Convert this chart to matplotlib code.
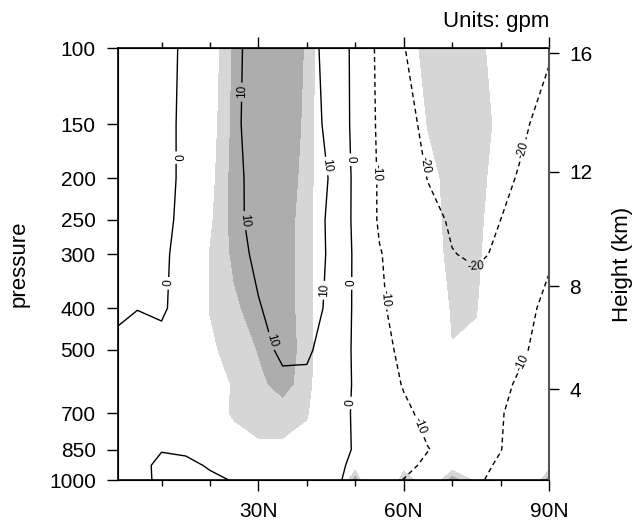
import numpy as np
import matplotlib
matplotlib.use("Agg")
import matplotlib.pyplot as plt
from matplotlib.ticker import NullLocator

plt.rcParams['font.family'] = ['Liberation Sans', 'DejaVu Sans']

# grid of the cross section
lats = [1, 5, 10, 15, 20, 25, 30, 35, 40, 45, 50, 55, 60, 65, 70, 75, 80, 85, 90]
plev = [1000, 925, 850, 700, 600, 500, 400, 300, 250, 200, 150, 100]

# geopotential height anomaly (gpm), rows follow plev, columns follow lats
hgt_anom = [
    [1.5, 1.5, -1, -2, -1, 0.3, 1, 1.5, 1.5, 0.8, -1, -5, -10.2, -12, -12.5, -11, -8, -6, -7],
    [1.5, 2, -1.5, -1.2, 0.5, 0.8, 2, 2.5, 2.5, 1.5, -1, -4, -8, -11.5, -12, -12, -9, -5, -3],
    [2, 2, 0.3, 0.8, 2, 3, 4, 4.5, 4, 2.5, -0.5, -4, -7, -9.8, -12, -12.5, -10.2, -6, -3],
    [2, 2.5, 3, 3.5, 4.5, 5.5, 6.5, 7, 6.5, 4, -1, -5, -8.5, -12, -13, -13, -10.5, -7, -4],
    [2, 2.5, 2.5, 3.5, 5, 6.5, 8, 9, 8.5, 5.5, -1, -6, -10.5, -13, -14, -14, -12, -8, -5],
    [1.5, 2, 2, 3, 5, 7, 8.5, 10.8, 11, 7, -1.5, -7, -12, -14.5, -15.5, -15.5, -14, -10.5, -7],
    [-1, -0.1, -0.8, 2.5, 5, 7, 9.5, 13, 13, 8.5, -1.5, -8.8, -13, -15.5, -17, -17, -15, -12, -8],
    [-2, -1.8, -1, 2, 5, 7.5, 11.5, 14, 13.5, 9, -1.5, -9.5, -14, -17, -19.8, -20.8, -19.2, -15, -11],
    [-2.5, -2, -1.5, 1.5, 5, 8.2, 12.5, 14.5, 13, 9, -2, -11, -15, -18, -20.8, -21.5, -20, -17, -14],
    [-3, -2.5, -1.8, 1.2, 4.5, 8.3, 12.5, 14.5, 13.5, 9.5, -2, -11, -16, -20.2, -22.5, -23, -21.5, -19, -16],
    [-3.5, -2.5, -1.8, 1.2, 5, 8.8, 13, 14.5, 13, 8.2, -2.5, -11.5, -18, -21.5, -24, -24.5, -23, -20.5, -18],
    [-4, -3, -2, 1, 5, 8.7, 12.5, 14, 12.5, 7.5, -2.5, -12, -19.8, -23, -25, -25, -24, -22, -20.5],
]

# confidence level (%) used for the gray shading
prob = [
    [50, 55, 60, 60, 60, 60, 65, 65, 70, 70, 98, 60, 97, 80, 98, 88, 60, 75, 98],
    [50, 55, 60, 60, 65, 70, 75, 75, 70, 65, 86, 60, 86, 70, 86, 70, 60, 70, 86],
    [50, 55, 60, 65, 75, 84, 88.5, 88.5, 85, 70, 60, 55, 60, 65, 65, 60, 55, 55, 60],
    [50, 50, 55, 70, 84, 91.5, 93, 93, 91, 75, 55, 50, 55, 60, 65, 65, 60, 55, 50],
    [50, 50, 55, 70, 82, 91.5, 94, 96.5, 93, 78, 55, 50, 55, 65, 75, 72, 65, 55, 50],
    [50, 50, 55, 75, 89, 92, 95.2, 97, 93.5, 80, 55, 50, 60, 75, 89.6, 88, 75, 60, 50],
    [50, 50, 60, 80, 90.2, 94, 97.5, 97, 93, 80, 58, 55, 65, 80, 91, 90.5, 78, 65, 55],
    [50, 50, 62, 80, 90.3, 96, 98, 97, 93, 80, 60, 58, 70, 84, 93, 92, 82, 68, 58],
    [50, 50, 62, 78, 89, 97, 98, 97, 93, 80, 60, 60, 72, 85, 93.5, 92.5, 84, 70, 60],
    [50, 50, 60, 75, 88, 97, 98, 97.5, 93.5, 80, 60, 62, 75, 86, 94, 93, 86, 70, 60],
    [50, 50, 60, 75, 87, 96.5, 98, 98, 94, 80, 60, 65, 78, 90.5, 94, 93.5, 88, 70, 60],
    [50, 50, 60, 75, 86, 96, 98, 98, 94.5, 80, 60, 70, 85, 93, 94, 93, 85, 70, 60],
]

cn_levels = [-20, -10, 0, 10]
sig_levels = [90, 95, 101]
p_ticks = [1000, 850, 700, 500, 400, 300, 250, 200, 150, 100]
lat_ticks = [30, 60, 90]
lat_labels = ['30N', '60N', '90N']
lat_minor = [10, 20, 40, 50, 70, 80]
height_ticks = [4, 8, 12, 16]

# where the contour labels sit (lat, hPa)
label_pos = [(13.3, 179), (12.0, 350), (26.3, 126), (27.1, 250), (32.7, 476),
             (43.8, 363), (44.4, 187), (49.4, 181), (49.6, 350), (49.4, 663),
             (54.5, 194), (55.8, 379), (62.8, 754), (64.0, 187), (74.7, 323),
             (84.4, 172), (84.6, 535)]


def std_pres(z_km):
    # standard atmosphere pressure (hPa) at height z (km)
    if z_km <= 11:
        return 1013.25 * (1 - 0.0065 * z_km * 1000 / 288.15) ** 5.2559
    return 226.32 * np.exp(-(z_km - 11) * 1000 / 6341.6)


fig = plt.figure(figsize=(6.44, 5.23), dpi=100)
ax = fig.add_axes([0.1832, 0.0822, 0.6693, 0.826])
ax.set_yscale('log')
ax.set_xlim(1, 90)
ax.set_ylim(1000, 100)

X, P = np.meshgrid(lats, plev)
ax.contourf(X, P, np.array(prob), levels=sig_levels,
            colors=['#d6d6d6', '#adadad'], zorder=1)
dash = (0, (3.5, 2.5))
cs = ax.contour(X, P, np.array(hgt_anom), levels=cn_levels, colors='k',
                linewidths=1.0, linestyles=[dash, dash, 'solid', 'solid'], zorder=2)
ax.clabel(cs, manual=label_pos, inline=True, inline_spacing=3, fontsize=8.5,
          fmt=lambda v: f'{v:.0f}')

ax.set_yticks(p_ticks)
ax.set_yticklabels([str(p) for p in p_ticks])
ax.yaxis.set_minor_locator(NullLocator())
ax.set_xticks(lat_ticks)
ax.set_xticklabels(lat_labels)
ax.set_xticks(lat_minor, minor=True)
ax.set_ylabel('pressure', fontsize=16, labelpad=14)

ax2 = ax.twinx()
ax2.set_yscale('log')
ax2.set_ylim(1000, 100)
ax2.set_yticks([std_pres(h) for h in height_ticks])
ax2.set_yticklabels([str(h) for h in height_ticks])
ax2.yaxis.set_minor_locator(NullLocator())
ax2.tick_params(axis='y', length=7.5, width=1, pad=7, labelsize=15)
ax2.set_ylabel('Height (km)', fontsize=16, labelpad=14)

ax.tick_params(axis='x', which='both', top=True, direction='out')
ax.tick_params(axis='y', right=False, direction='out')
ax.tick_params(which='major', length=8, width=1, pad=8, labelsize=15)
ax.tick_params(which='minor', length=4.3, width=1)
for sp in ax.spines.values():
    sp.set_linewidth(1.2)
ax2.spines['right'].set_color('#555555')
ax2.spines['right'].set_linewidth(1.5)

ax.text(1.0, 1.037, 'Units: gpm', transform=ax.transAxes, ha='right',
        va='bottom', fontsize=16)

fig.savefig('out.png', dpi=100)
